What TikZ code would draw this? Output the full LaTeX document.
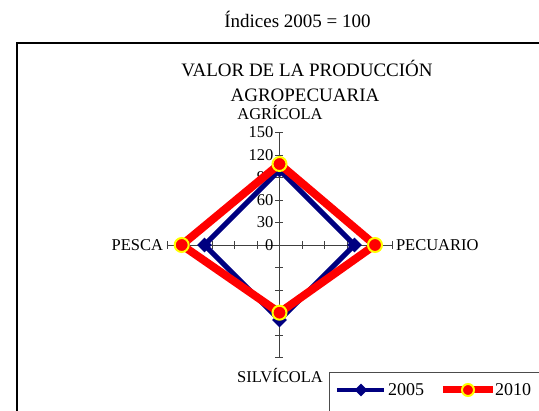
\documentclass[tikz,border=0pt]{standalone}
\usepackage{fontspec}
\setmainfont{Liberation Serif}
\usetikzlibrary{shapes.geometric}
\definecolor{azul}{RGB}{0,0,128}
\definecolor{amarillo}{RGB}{255,255,0}

\begin{document}
\begin{tikzpicture}[x=1pt,y=1pt,
    serie5/.style={draw=azul,line width=5pt},
    serie10/.style={draw=red,line width=8pt},
    rombo/.style={diamond,aspect=1,fill=azul,inner sep=0pt,minimum size=15pt},
    punto/.style={circle,fill=red,draw=amarillo,line width=2pt,inner sep=0pt,minimum size=14pt},
    eje/.style={draw=black!75,line width=0.8pt},
    etiq/.style={font=\fontsize{16.5}{18}\selectfont},
    titulo/.style={font=\fontsize{19}{22}\selectfont}]
        \useasboundingbox (-279.5,-166) rectangle (259.5,245);
        % marco del grafico
        \coordinate (M1) at (-262.5,-170);
        \coordinate (M2) at (-262.5,201.7);
        \coordinate (M3) at (262,201.7);
        \draw[line width=1.8pt] (M1) -- (M2) -- (M3);
        \node[titulo] (ind) at (18,226) {Índices 2005 = 100};
        \node[titulo] (tit1) at (27.5,177) {VALOR DE LA PRODUCCIÓN};
        \node[titulo] (tit2) at (25.5,150) {AGROPECUARIA};

        % ejes
        \coordinate (N) at (0,112.5);
        \coordinate (S) at (0,-112.5);
        \coordinate (E) at (112.5,0);
        \coordinate (W) at (-112.5,0);
        \draw[eje] (N) -- (S);
        \draw[eje] (W) -- (E);
        \foreach \k in {-5,...,5} {
            \draw[eje] (-4,22.5*\k) -- (4,22.5*\k);
            \draw[eje] (22.5*\k,-4) -- (22.5*\k,4);
        }
        \foreach \k/\v in {0/0,1/30,2/60,3/90,4/120,5/150}
            \node[etiq,anchor=east,inner sep=0pt] (t\v) at (-6,22.5*\k) {\v};
        \node[etiq,inner sep=0pt] (agri) at (0.5,132) {AGRÍCOLA};
        \node[etiq,anchor=east] (pecu) at (-113,0) {PESCA};
        \node[etiq,anchor=west] (pesc) at (113,0) {PECUARIO};
        \node[etiq,inner sep=0pt] (silv) at (0.5,-131) {SILVÍCOLA};

        % 2005
        \coordinate (A5) at (0,75);
        \coordinate (B5) at (75,0);
        \coordinate (C5) at (0,-75);
        \coordinate (D5) at (-75,0);
        \draw[serie5] (A5) -- (B5) -- (C5) -- (D5) -- cycle;
        \foreach \p in {A5,B5,C5,D5}
            \node[rombo] (m\p) at (\p) {};

        % 2010
        \coordinate (A0) at (0,81);
        \coordinate (B0) at (95.5,0);
        \coordinate (C0) at (0,-67.7);
        \coordinate (D0) at (-97.8,0);
        \draw[serie10] (A0) -- (B0) -- (C0) -- (D0) -- cycle;
        \foreach \p in {A0,B0,C0,D0}
            \node[punto] (m\p) at (\p) {};

        % leyenda
        \coordinate (L1) at (50.5,-170);
        \coordinate (L2) at (50.5,-128);
        \coordinate (L3) at (262,-128);
        \draw[black!70,line width=1pt] (L1) -- (L2) -- (L3);
        \coordinate (P1) at (57.5,-145);
        \coordinate (P2) at (104.5,-145);
        \draw[draw=azul,line width=4pt] (P1) -- (P2);
        \node[rombo,minimum size=13pt] (r5) at (81.5,-145) {};
        \node[font=\fontsize{18}{20}\selectfont,anchor=west,inner sep=0pt] (a2005) at (108.5,-145) {2005};
        \coordinate (Q1) at (163.5,-145);
        \coordinate (Q2) at (213.5,-145);
        \draw[draw=red,line width=7pt] (Q1) -- (Q2);
        \node[punto,minimum size=12pt] (r10) at (188.5,-145) {};
        \node[font=\fontsize{18}{20}\selectfont,anchor=west,inner sep=0pt] (a2010) at (215.5,-145) {2010};
\end{tikzpicture}
\end{document}
